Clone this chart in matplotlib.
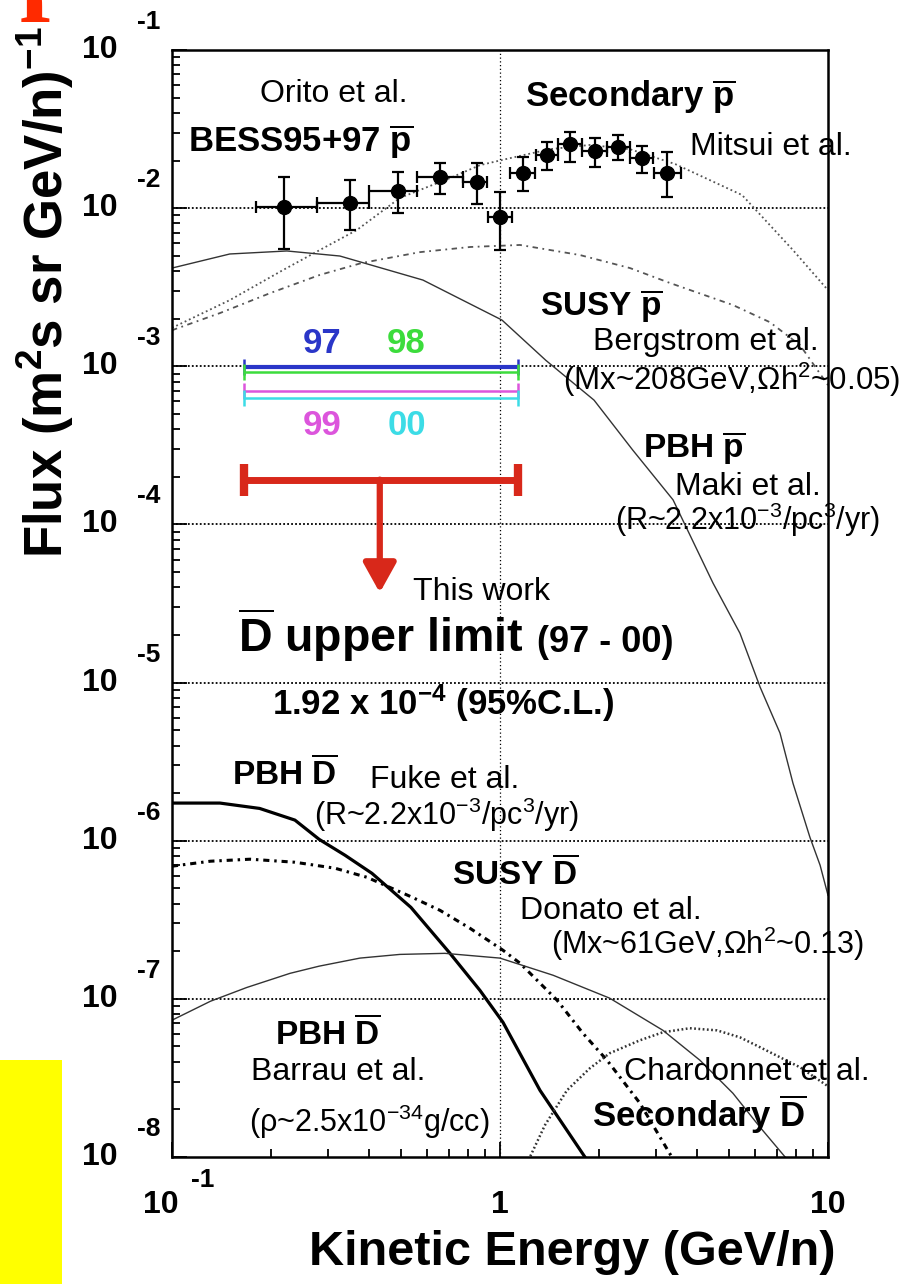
import matplotlib
matplotlib.use("Agg")
import matplotlib.pyplot as plt
from matplotlib import transforms
from matplotlib.ticker import LogLocator, NullFormatter
from matplotlib.patches import Rectangle

# ---------------- data ----------------
# BESS95+97 antiproton data (Orito et al.)
bess_E = [0.219, 0.349, 0.489, 0.656, 0.851, 1.0, 1.175, 1.39, 1.63, 1.95, 2.29, 2.71, 3.23]
bess_E_lo = [0.180, 0.277, 0.399, 0.558, 0.773, 0.919, 1.07, 1.29, 1.50, 1.78, 2.12, 2.49, 2.95]
bess_E_hi = [0.277, 0.399, 0.558, 0.771, 0.912, 1.088, 1.28, 1.50, 1.78, 2.12, 2.49, 2.92, 3.56]
bess_F = [1.01e-2, 1.08e-2, 1.28e-2, 1.57e-2, 1.46e-2, 8.8e-3, 1.67e-2, 2.16e-2, 2.54e-2,
          2.30e-2, 2.43e-2, 2.07e-2, 1.67e-2]
bess_F_lo = [5.5e-3, 7.3e-3, 9.3e-3, 1.23e-2, 1.06e-2, 5.4e-3, 1.28e-2, 1.74e-2, 1.95e-2,
             1.82e-2, 2.01e-2, 1.67e-2, 1.17e-2]
bess_F_hi = [1.57e-2, 1.50e-2, 1.69e-2, 1.93e-2, 1.93e-2, 1.26e-2, 2.10e-2, 2.62e-2, 3.03e-2,
             2.77e-2, 2.90e-2, 2.47e-2, 2.26e-2]

# Secondary pbar (Mitsui et al.)
secp_E = [0.100, 0.150, 0.218, 0.282, 0.366, 0.495, 0.704, 0.869, 1.072, 1.419, 1.879,
          2.488, 3.42, 5.47, 7.82, 10.0]
secp_F = [1.75e-3, 2.62e-3, 4.06e-3, 5.43e-3, 7.27e-3, 1.16e-2, 1.55e-2, 1.87e-2, 2.07e-2,
          2.36e-2, 2.51e-2, 2.36e-2, 1.90e-2, 1.21e-2, 5.43e-3, 3.03e-3]

# SUSY pbar (Bergstrom et al.)
susyp_E = [0.100, 0.140, 0.199, 0.282, 0.379, 0.570, 0.811, 1.151, 1.754, 2.49, 3.30,
           5.13, 6.65, 8.22, 10.0]
susyp_F = [1.69e-3, 2.17e-3, 2.90e-3, 3.78e-3, 4.50e-3, 5.27e-3, 5.68e-3, 5.85e-3, 5.05e-3,
           4.18e-3, 3.36e-3, 2.44e-3, 1.90e-3, 1.36e-3, 7.60e-4]

# PBH pbar (Maki et al.)
pbhp_E = [0.100, 0.150, 0.224, 0.325, 0.582, 1.014, 1.380, 1.935, 2.54, 3.37, 4.46, 5.39,
          6.21, 7.14, 7.82, 8.81, 9.46, 10.0]
pbhp_F = [4.18e-3, 5.13e-3, 5.36e-3, 4.98e-3, 3.51e-3, 1.96e-3, 1.09e-3, 6.11e-4, 2.95e-4,
          1.43e-4, 4.26e-5, 2.05e-5, 9.35e-6, 4.79e-6, 2.31e-6, 1.05e-6, 7.00e-7, 4.52e-7]

# PBH Dbar (Fuke et al.)
fuke_E = [0.100, 0.140, 0.185, 0.237, 0.281, 0.337, 0.407, 0.535, 0.704, 0.869, 1.021,
          1.324, 1.815, 2.02]
fuke_F = [1.73e-6, 1.73e-6, 1.60e-6, 1.35e-6, 1.02e-6, 8.09e-7, 6.22e-7, 3.79e-7, 1.94e-7,
          1.13e-7, 7.11e-8, 2.64e-8, 1.0e-8, 7.1e-9]

# SUSY Dbar (Donato et al.)
donato_E = [0.100, 0.131, 0.173, 0.237, 0.314, 0.393, 0.532, 0.656, 0.811, 1.021, 1.151,
            1.493, 1.791, 2.12, 2.67, 3.34, 3.6]
donato_F = [6.90e-7, 7.42e-7, 7.64e-7, 7.31e-7, 6.70e-7, 5.87e-7, 4.45e-7, 3.63e-7, 2.79e-7,
            2.03e-7, 1.68e-7, 9.80e-8, 6.05e-8, 4.09e-8, 2.19e-8, 1.0e-8, 8.0e-9]

# PBH Dbar (Barrau et al.)
barrau_E = [0.100, 0.131, 0.169, 0.229, 0.281, 0.374, 0.495, 0.679, 1.0, 1.452, 2.16, 3.14,
            4.07, 5.13, 6.21, 7.40, 8.0]
barrau_F = [7.33e-8, 9.66e-8, 1.18e-7, 1.45e-7, 1.61e-7, 1.81e-7, 1.91e-7, 1.94e-7, 1.81e-7,
            1.41e-7, 1.01e-7, 6.32e-8, 4.09e-8, 2.53e-8, 1.54e-8, 1.0e-8, 8.5e-9]

# Secondary Dbar (Chardonnet et al.)
chard_E = [1.20, 1.234, 1.371, 1.600, 1.879, 2.16, 2.67, 3.14, 3.79, 4.59, 5.39, 6.21, 8.22, 10.0]
chard_F = [8.5e-9, 1.0e-8, 1.59e-8, 2.64e-8, 3.64e-8, 4.53e-8, 5.47e-8, 6.15e-8, 6.52e-8,
           6.32e-8, 5.71e-8, 4.94e-8, 3.69e-8, 2.80e-8]

# yearly Dbar limits and combined limit
year_labels = ["97", "98", "99", "00"]
year_limits = [9.87e-4, 9.2e-4, 6.95e-4, 6.27e-4]
year_colors = ["#2a36c8", "#3cdc3c", "#dc55dc", "#3cdce6"]
limit_E_range = [0.166, 1.135]
combined_limit = 1.92e-4
arrow_E = 0.43
arrow_tip = 3.7e-5

x_ticks = [0.1, 1, 10]
y_decades = [-1, -2, -3, -4, -5, -6, -7, -8]

# ---------------- figure ----------------
NARROW = ["Liberation Sans Narrow", "Liberation Sans", "DejaVu Sans"]
plt.rcParams["font.family"] = NARROW
plt.rcParams["mathtext.fontset"] = "custom"
plt.rcParams["mathtext.rm"] = "Liberation Sans"
plt.rcParams["mathtext.it"] = "Liberation Sans:italic"
plt.rcParams["mathtext.bf"] = "Liberation Sans:bold"

W, H = 915, 1284
fig = plt.figure(figsize=(W / 100, H / 100), dpi=100)
fig.patch.set_facecolor("white")
ax = fig.add_axes([172 / W, 1 - 1157 / H, 656 / W, 1107 / H])
ax.set_xscale("log")
ax.set_yscale("log")
ax.set_xlim(0.1, 10)
ax.set_ylim(1e-8, 1e-1)

for s in ax.spines.values():
    s.set_linewidth(1.8)

ax.xaxis.set_major_locator(LogLocator(base=10, numticks=10))
ax.xaxis.set_minor_locator(LogLocator(base=10, subs=range(2, 10), numticks=20))
ax.yaxis.set_major_locator(LogLocator(base=10, numticks=20))
ax.yaxis.set_minor_locator(LogLocator(base=10, subs=range(2, 10), numticks=40))
ax.xaxis.set_major_formatter(NullFormatter())
ax.xaxis.set_minor_formatter(NullFormatter())
ax.yaxis.set_major_formatter(NullFormatter())
ax.yaxis.set_minor_formatter(NullFormatter())
ax.tick_params(which="both", direction="in", top=False, right=False, width=1.3)
ax.tick_params(which="major", length=11)
ax.tick_params(which="minor", length=6)

# grid (dotted)
ax.axvline(1.0, color="black", lw=0.9, ls=(0, (1, 2)), zorder=1)
for d in y_decades[1:-1]:
    ax.axhline(10.0 ** d, color="black", lw=1.3, ls=(0, (1, 1.2)), zorder=1)

# model curves
ax.plot(secp_E, secp_F, color="#555555", lw=1.3, ls=(0, (1, 1.6)), zorder=2)
ax.plot(susyp_E, susyp_F, color="#555555", lw=1.3, ls=(0, (3, 2.5, 1, 2.5)), zorder=2)
ax.plot(pbhp_E, pbhp_F, color="#333333", lw=1.0, zorder=2)
ax.plot(fuke_E, fuke_F, color="black", lw=2.3, zorder=2)
ax.plot(donato_E, donato_F, color="black", lw=2.2, ls=(0, (2, 1.6, 0.8, 1.6)), zorder=2)
ax.plot(barrau_E, barrau_F, color="#333333", lw=1.0, zorder=2)
ax.plot(chard_E, chard_F, color="#333333", lw=1.8, ls=(0, (0.7, 1.0)), zorder=2)

# data points
xerr = [[e - lo for e, lo in zip(bess_E, bess_E_lo)], [hi - e for e, hi in zip(bess_E, bess_E_hi)]]
yerr = [[f - lo for f, lo in zip(bess_F, bess_F_lo)], [hi - f for f, hi in zip(bess_F, bess_F_hi)]]
ax.errorbar(bess_E, bess_F, xerr=xerr, yerr=yerr, fmt="o", color="black", ms=10,
            elinewidth=1.6, capsize=4.5, capthick=1.6, zorder=5)

# yearly limits
emid = (limit_E_range[0] * limit_E_range[1]) ** 0.5
exerr = [[emid - limit_E_range[0]], [limit_E_range[1] - emid]]
for val, col, lw in zip(year_limits, year_colors, [3.0, 1.8, 1.8, 1.8]):
    ax.errorbar([emid], [val], xerr=exerr, fmt="none", ecolor=col, elinewidth=lw,
                capsize=6, capthick=1.8, zorder=6)
RED = "#d8281a"
ax.errorbar([emid], [combined_limit], xerr=exerr, fmt="none", ecolor=RED, elinewidth=5,
            capsize=11.5, capthick=6, zorder=6)
ax.annotate("", xy=(arrow_E, arrow_tip), xytext=(arrow_E, combined_limit),
            arrowprops=dict(arrowstyle="-|>,head_length=0.9,head_width=0.5", lw=4.5,
                            color=RED, mutation_scale=20, shrinkA=0, shrinkB=0),
            zorder=6)


def T(x, y, s, size=22, bold=False, color="black", ha="left", va="baseline", **kw):
    fig.text(x / W, 1 - y / H, s, fontsize=size, fontweight="bold" if bold else "normal",
             ha=ha, va=va, color=color, **kw)


# year labels
T(303, 353, year_labels[0], 25, True, year_colors[0])
T(387, 353, year_labels[1], 25, True, year_colors[1])
T(303, 435, year_labels[2], 25, True, year_colors[2])
T(388, 435, year_labels[3], 25, True, year_colors[3])

# annotations
T(260, 102, "Orito et al.", 23)
T(188, 151, r"BESS95+97 $\overline{\mathbf{p}}$", 25, True)
T(525, 107, r"Secondary $\overline{\mathbf{p}}$", 25, True)
T(690, 155, "Mitsui et al.", 23)
T(540, 315, r"SUSY $\overline{\mathbf{p}}$", 24, True)
T(593, 350, "Bergstrom et al.", 23)
T(563, 390, r"(Mx~208GeV,Ωh$^{2}$~0.05)", 22.5)
T(643, 457, r"PBH $\overline{\mathbf{p}}$", 24, True)
T(675, 495, "Maki et al.", 23)
T(615, 530, r"(R~2.2x10$^{-3}$/pc$^{3}$/yr)", 22)
T(413, 600, "This work", 23)
T(238, 652, r"$\overline{\mathbf{D}}$ upper limit", 33.5, True)
T(537, 652, "(97 - 00)", 26, True)
T(272, 715, r"1.92 x 10$^{\mathbf{-4}}$ (95%C.L.)", 25, True)
T(232, 785, r"PBH $\overline{\mathbf{D}}$", 24, True)
T(370, 788, "Fuke et al.", 23)
T(314, 825, r"(R~2.2x10$^{-3}$/pc$^{3}$/yr)", 22)
T(452, 885, r"SUSY $\overline{\mathbf{D}}$", 24, True)
T(520, 919, "Donato et al.", 23)
T(551, 954, r"(Mx~61GeV,Ωh$^{2}$~0.13)", 22)
T(275, 1045, r"PBH $\overline{\mathbf{D}}$", 24, True)
T(251, 1080, "Barrau et al.", 23)
T(249, 1132, r"(ρ~2.5x10$^{-34}$g/cc)", 22)
T(624, 1080, "Chardonnet et al.", 23)
T(592, 1127, r"Secondary $\overline{\mathbf{D}}$", 25, True)

# tick labels (ROOT style)
ty = transforms.blended_transform_factory(fig.transFigure, ax.transData)
for d in y_decades:
    ax.text(118 / W, 10.0 ** d, "10", transform=ty, ha="right", va="center",
            fontsize=23, fontweight="bold", clip_on=False)
    ax.text(137 / W, 10.0 ** d, str(d), fontsize=19, fontweight="bold", ha="left",
            va="center", clip_on=False,
            transform=transforms.offset_copy(ty, fig, x=0, y=28, units="dots"))
tx = transforms.blended_transform_factory(ax.transData, fig.transFigure)
for v in x_ticks:
    if v < 1:
        ax.text(v, 1 - 1205 / H, "10", transform=transforms.offset_copy(tx, fig, x=-11, y=0, units="dots"),
                ha="center", va="center", fontsize=23, fontweight="bold", clip_on=False)
        ax.text(v, 1 - 1180 / H, "-1", transform=transforms.offset_copy(tx, fig, x=19, y=0, units="dots"),
                ha="left", va="center", fontsize=19, fontweight="bold", clip_on=False)
    else:
        ax.text(v, 1 - 1205 / H, "%d" % v, transform=tx, ha="center", va="center",
                fontsize=23, fontweight="bold", clip_on=False)

# axis titles
T(572, 1265, "Kinetic Energy (GeV/n)", 35, True, ha="center")
T(45, 292, r"Flux (m$^{\mathbf{2}}$s sr GeV/n)$^{\mathbf{-1}}$", 38, True, ha="center",
  va="center", rotation=90)

# slide decorations
fig.patches.append(Rectangle((0, 0), 62 / W, (H - 1060) / H, transform=fig.transFigure,
                             facecolor="#ffff00", edgecolor="none"))
fig.text(20 / W, 1 + 1 / H, "p", fontsize=78, fontweight="bold", color="#ff2a00",
         family=["Liberation Serif", "DejaVu Serif"], ha="left", va="baseline")

fig.savefig("out.png", dpi=100)
